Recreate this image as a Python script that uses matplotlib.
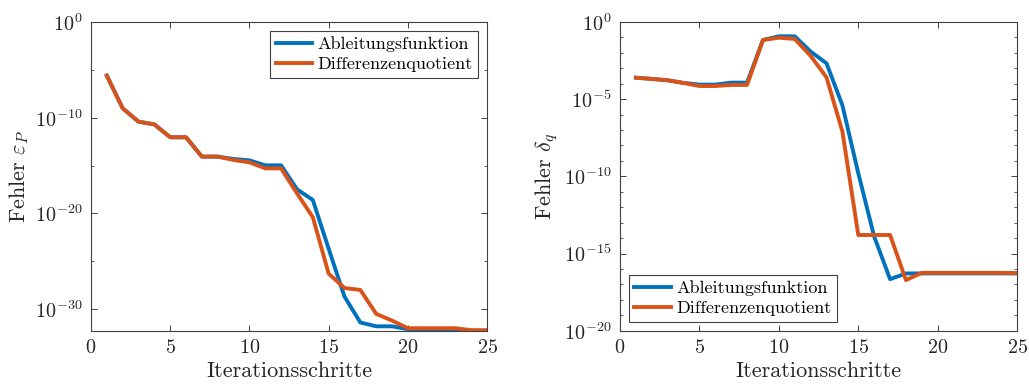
import numpy as np
import matplotlib
matplotlib.use("Agg")
import matplotlib.pyplot as plt
from matplotlib.ticker import FixedLocator, NullFormatter

plt.rcParams['font.family'] = 'serif'
plt.rcParams['font.serif'] = ['cmr10', 'DejaVu Serif']
plt.rcParams['mathtext.fontset'] = 'cm'
plt.rcParams['axes.formatter.use_mathtext'] = True
plt.rcParams['axes.unicode_minus'] = True

iterations = np.arange(1, 26)

# log10 of errors, left panel (epsilon_P)
epsP_ableitung_log = [-5.61, -9.02, -10.42, -10.7, -12.05, -12.05, -14.07, -14.07,
                      -14.32, -14.46, -14.98, -14.98, -17.48, -18.6, -23.7, -28.7,
                      -31.4, -31.8, -31.8, -32.1, -32.1, -32.1, -32.1, -32.4, -32.4]
epsP_differenz_log = [-5.61, -9.02, -10.42, -10.7, -12.05, -12.05, -14.07, -14.07,
                      -14.42, -14.67, -15.3, -15.3, -17.9, -20.4, -26.3, -27.8,
                      -28.0, -30.5, -31.2, -32.0, -32.0, -32.0, -32.0, -32.2, -32.2]

# log10 of errors, right panel (delta_q)
deltaq_ableitung_log = [-3.61, -3.69, -3.78, -3.95, -4.06, -4.06, -3.93, -3.93,
                        -1.17, -0.93, -0.93, -1.92, -2.68, -5.4, -9.8, -13.9,
                        -16.66, -16.29, -16.29, -16.29, -16.29, -16.29, -16.29, -16.29, -16.29]
deltaq_differenz_log = [-3.61, -3.69, -3.78, -3.95, -4.15, -4.15, -4.08, -4.08,
                        -1.17, -1.02, -1.10, -2.2, -3.59, -7.1, -13.8, -13.8,
                        -13.8, -16.72, -16.25, -16.25, -16.25, -16.25, -16.25, -16.25, -16.27]

legend_labels = ['Ableitungsfunktion', 'Differenzenquotient']
c_blue = '#0072BD'
c_orange = '#D95319'
axis_color = '#404040'
text_color = '#262626'

fig = plt.figure(figsize=(10.29, 3.85), dpi=100)
ax1 = fig.add_axes([0.0884, 0.141, 0.385, 0.802])
ax2 = fig.add_axes([0.6025, 0.141, 0.386, 0.802])

def style(ax):
    for s in ax.spines.values():
        s.set_color(axis_color)
        s.set_linewidth(0.8)
    ax.tick_params(which='both', direction='in', top=True, right=True,
                   colors=axis_color, labelcolor=text_color, labelsize=14.5)
    ax.tick_params(which='major', length=4, width=0.7)
    ax.tick_params(which='minor', length=2.5, width=0.6)
    ax.tick_params(axis='x', pad=6)
    ax.tick_params(axis='y', pad=6)
    ax.set_xlim(0, 25)
    ax.set_xticks([0, 5, 10, 15, 20, 25])
    ax.set_xlabel('Iterationsschritte', fontsize=16, color=text_color, labelpad=3)

def add_legend(ax, loc):
    leg = ax.legend(loc=loc, fontsize=13, fancybox=False, framealpha=1,
                    edgecolor=axis_color, handlelength=2.0, borderpad=0.3,
                    labelspacing=0.25, handletextpad=0.3, borderaxespad=0.5)
    leg.get_frame().set_linewidth(0.8)

lw = 2.8
ax1.semilogy(iterations, 10.0 ** np.array(epsP_ableitung_log), color=c_blue, lw=lw,
             label=legend_labels[0])
ax1.semilogy(iterations, 10.0 ** np.array(epsP_differenz_log), color=c_orange, lw=lw,
             label=legend_labels[1])
style(ax1)
ax1.set_ylim(10 ** -32.26, 1)
ax1.yaxis.set_major_locator(FixedLocator([1e-30, 1e-20, 1e-10, 1e0]))
ax1.yaxis.set_minor_locator(FixedLocator([1e-25, 1e-15, 1e-5]))
ax1.yaxis.set_minor_formatter(NullFormatter())
ax1.set_ylabel(r'Fehler $\varepsilon_P$', fontsize=16, color=text_color, labelpad=3)
add_legend(ax1, 'upper right')

ax2.semilogy(iterations, 10.0 ** np.array(deltaq_ableitung_log), color=c_blue, lw=lw,
             label=legend_labels[0])
ax2.semilogy(iterations, 10.0 ** np.array(deltaq_differenz_log), color=c_orange, lw=lw,
             label=legend_labels[1])
style(ax2)
ax2.set_ylim(1e-20, 1)
ax2.yaxis.set_major_locator(FixedLocator([1e-20, 1e-15, 1e-10, 1e-5, 1e0]))
ax2.yaxis.set_minor_locator(FixedLocator([10.0 ** -k for k in range(1, 20) if k % 5]))
ax2.yaxis.set_minor_formatter(NullFormatter())
ax2.set_ylabel(r'Fehler $\delta_q$', fontsize=16, color=text_color, labelpad=3)
add_legend(ax2, 'lower left')

fig.savefig('out.png', dpi=100)
